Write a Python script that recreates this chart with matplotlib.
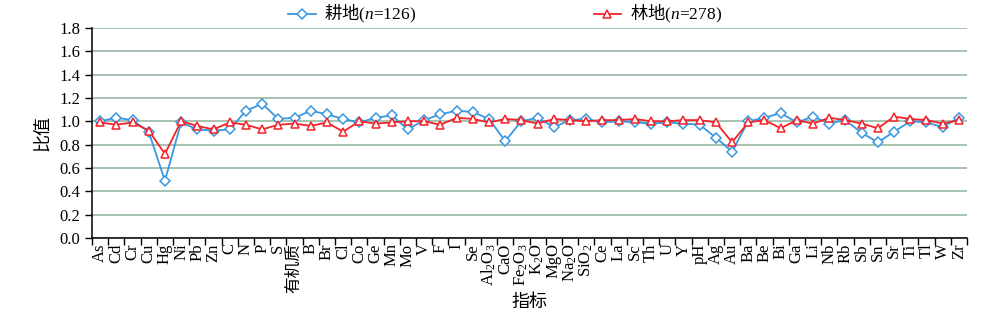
import matplotlib
matplotlib.use("Agg")
import matplotlib.pyplot as plt
import numpy as np

plt.rcParams['font.family'] = ['Liberation Serif', 'Noto Sans CJK SC']
plt.rcParams['mathtext.fontset'] = 'custom'
plt.rcParams['mathtext.rm'] = 'Noto Sans CJK SC'
plt.rcParams['mathtext.it'] = 'Liberation Serif:italic'

categories = ['As', 'Cd', 'Cr', 'Cu', 'Hg', 'Ni', 'Pb', 'Zn', 'C', 'N', 'P', 'S', '有机质',
              'B', 'Br', 'Cl', 'Co', 'Ge', 'Mn', 'Mo', 'V', 'F', 'I', 'Se',
              'Al$\\mathregular{_2}$O$\\mathregular{_3}$', 'CaO',
              'Fe$\\mathregular{_2}$O$\\mathregular{_3}$', 'K$\\mathregular{_2}$O', 'MgO',
              'Na$\\mathregular{_2}$O', 'SiO$\\mathregular{_2}$',
              'Ce', 'La', 'Sc', 'Th', 'U', 'Y', 'pH', 'Ag', 'Au', 'Ba', 'Be', 'Bi', 'Ga',
              'Li', 'Nb', 'Rb', 'Sb', 'Sn', 'Sr', 'Ti', 'Tl', 'W', 'Zr']

farmland = [1.00, 1.03, 1.01, 0.91, 0.49, 0.99, 0.93, 0.92, 0.93, 1.09, 1.15, 1.02, 1.03,
            1.09, 1.06, 1.02, 0.99, 1.03, 1.05, 0.93, 1.01, 1.06, 1.09, 1.08,
            1.02, 0.83, 1.00, 1.03, 0.95, 1.01, 1.02,
            0.99, 1.00, 0.99, 0.98, 0.99, 0.98, 0.97, 0.86, 0.74, 1.00, 1.03, 1.07, 0.99,
            1.04, 0.98, 1.01, 0.90, 0.82, 0.91, 1.00, 0.99, 0.95, 1.03]

forest = [0.99, 0.97, 0.99, 0.92, 0.72, 1.00, 0.96, 0.93, 0.99, 0.97, 0.93, 0.97, 0.98,
          0.96, 0.99, 0.91, 1.00, 0.98, 0.99, 1.00, 1.00, 0.97, 1.03, 1.02,
          0.99, 1.02, 1.01, 0.98, 1.02, 1.01, 1.00,
          1.01, 1.01, 1.02, 1.00, 1.00, 1.01, 1.01, 0.99, 0.82, 0.99, 1.01, 0.94, 1.01,
          0.98, 1.03, 1.01, 0.98, 0.94, 1.04, 1.02, 1.01, 0.98, 1.01]

label_farm = '$\\mathrm{耕地}$($\\mathit{n}$=126)'
label_forest = '$\\mathrm{林地}$($\\mathit{n}$=278)'

fig = plt.figure(figsize=(10.0, 3.18), dpi=100)
ax = fig.add_axes([0.092, 0.252, 0.875, 0.66])

x = np.arange(len(categories))
ax.plot(x, farmland, color='#3a97e0', lw=1.3, marker='D', ms=4.8, mfc='white',
        mec='#3a97e0', mew=1.1, label=label_farm, zorder=3)
ax.plot(x, forest, color='#f5222a', lw=1.3, marker='^', ms=5.2, mfc='white',
        mec='#f5222a', mew=1.1, label=label_forest, zorder=4)

ax.set_xlim(-0.5, len(categories) - 0.5)
ax.set_ylim(0, 1.8)
ax.set_yticks(np.arange(0, 1.81, 0.2))
ax.set_yticklabels([f'{v:.1f}' for v in np.arange(0, 1.81, 0.2)], fontsize=12)
ax.yaxis.grid(True, color='#97b7a3', lw=1.2)
ax.set_axisbelow(True)

ax.set_xticks(x)
ax.set_xticklabels(categories, rotation=90, fontsize=12)
ax.set_xticks(np.arange(-0.5, len(categories), 1), minor=True)
ax.tick_params(axis='x', which='major', length=0, pad=4)
ax.tick_params(axis='x', which='minor', length=5, width=1, direction='out')
ax.tick_params(axis='y', length=5, width=1, direction='out')

for s in ['top', 'right']:
    ax.spines[s].set_visible(False)
ax.spines['left'].set_linewidth(1.1)
ax.spines['bottom'].set_linewidth(1.1)

ax.set_ylabel('比值', fontsize=13, labelpad=6, family=['Noto Sans CJK SC'])
ax.set_xlabel('指标', fontsize=13, labelpad=0, family=['Noto Sans CJK SC'])

leg = fig.legend(loc='center', bbox_to_anchor=(0.505, 0.955), ncol=2, frameon=False,
                 fontsize=12.5, columnspacing=10.2, handlelength=1.6, handletextpad=0.5)

fig.savefig('out.png', dpi=100)
